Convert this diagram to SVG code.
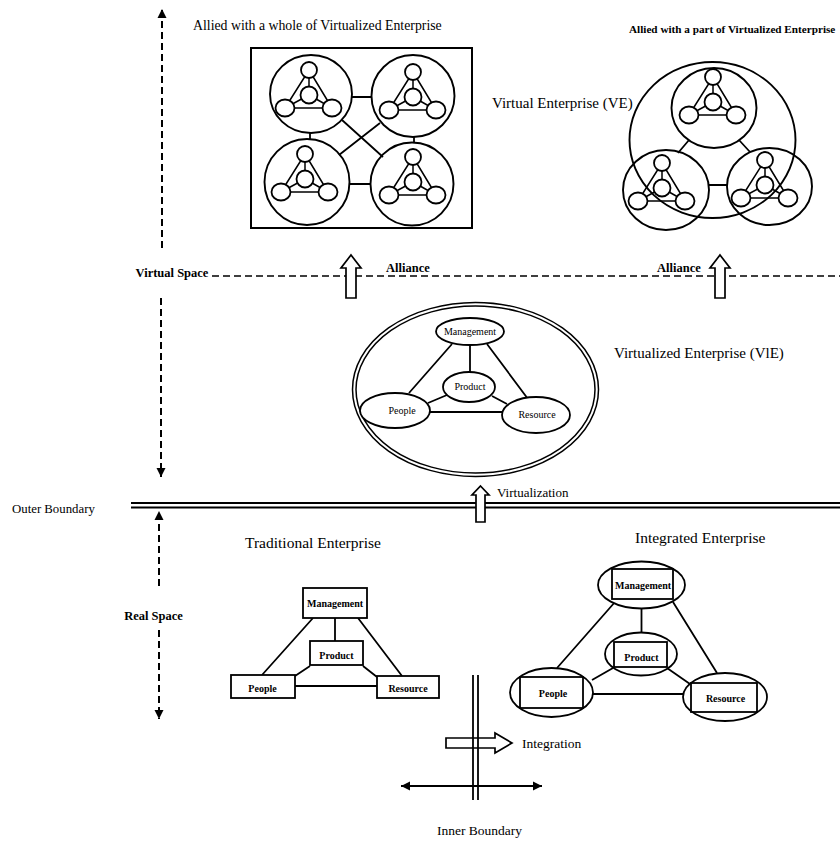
<svg xmlns="http://www.w3.org/2000/svg" xmlns:xlink="http://www.w3.org/1999/xlink" width="840" height="842" viewBox="0 0 840 842">
  <style>
    text { font-family: "Liberation Serif", "Times New Roman", serif; fill: #000; }
    .ln { stroke: #000; stroke-width: 1.8; fill: none; }
    .thin { stroke: #000; stroke-width: 1.5; fill: none; }
    .nd { fill: #fff; stroke: #000; stroke-width: 1.8; }
    .ring { fill: none; stroke: #000; stroke-width: 1.9; }
    .axis { stroke: #000; stroke-width: 2; fill: none; stroke-dasharray: 7 4; }
    .dash { stroke: #000; stroke-width: 1.7; fill: none; stroke-dasharray: 7 4; }
    .blk { fill: #fff; stroke: #000; stroke-width: 1.7; }
    .lbl { font-size: 10px; text-anchor: middle; }
    .lblb { font-size: 10px; font-weight: bold; text-anchor: middle; }
    .title { font-size: 15px; }
  </style>
  <defs>
    <marker id="ah" viewBox="0 0 10 10" refX="10" refY="5" markerWidth="9" markerHeight="10" markerUnits="userSpaceOnUse" orient="auto-start-reverse">
      <path d="M0,0 L10,5 L0,10 z" fill="#000" stroke="none"/>
    </marker>
    <!-- small four-node triangle reused inside every enterprise circle -->
    <g id="mini">
      <path class="thin" d="M0,-25 L-24,13 M0,-25 L23,13 M-24,13 L23,13 M0,-25 L0,0 M0,0 L-24,13 M0,0 L23,13"/>
      <circle class="nd" cx="0" cy="-25" r="8" stroke-width="1.5"/>
      <circle class="nd" cx="0" cy="0" r="8.5" stroke-width="1.5"/>
      <ellipse class="nd" cx="-24" cy="13" rx="9.5" ry="8.5" stroke-width="1.5"/>
      <ellipse class="nd" cx="23" cy="13" rx="9.5" ry="8.5" stroke-width="1.5"/>
    </g>
  </defs>

  <rect width="840" height="842" fill="#fff"/>

  <!-- vertical space axes -->
  <g id="axes">
    <line class="axis" x1="162" y1="248" x2="162" y2="9" marker-end="url(#ah)"/>
    <line class="axis" x1="161" y1="298" x2="161" y2="477" marker-end="url(#ah)"/>
    <line class="axis" x1="159" y1="586" x2="159" y2="511" marker-end="url(#ah)"/>
    <line class="axis" x1="159" y1="630" x2="159" y2="719" marker-end="url(#ah)"/>
    <text x="172" y="277" font-size="12.5" font-weight="bold" text-anchor="middle">Virtual Space</text>
    <text x="153.5" y="620" font-size="12.5" font-weight="bold" text-anchor="middle">Real Space</text>
  </g>

  <!-- boundaries -->
  <g id="outer-boundary">
    <line class="ln" x1="131" y1="503" x2="840" y2="503"/>
    <line class="ln" x1="131" y1="507.5" x2="840" y2="507.5"/>
    <text x="12" y="513" font-size="12.8">Outer Boundary</text>
  </g>
  <g id="alliance-line">
    <line class="dash" x1="212" y1="276" x2="840" y2="276"/>
  </g>

  <!-- top captions and titles -->
  <text x="193" y="30" font-size="13.8">Allied with a whole of Virtualized Enterprise</text>
  <text x="629" y="33" font-size="11.2" font-weight="bold">Allied with a part of Virtualized Enterprise</text>
  <text class="title" x="492" y="108">Virtual Enterprise (VE)</text>
  <text class="title" x="614" y="358">Virtualized Enterprise (VlE)</text>
  <text x="245" y="548" font-size="15.5">Traditional Enterprise</text>
  <text x="635" y="543" font-size="15.5">Integrated Enterprise</text>

  <!-- Virtual Enterprise: whole alliance (box) -->
  <g id="ve-whole">
    <rect x="251" y="48" width="221" height="180" fill="none" stroke="#000" stroke-width="2"/>
    <g id="ve-whole-links">
      <path class="ln" d="M352,97 L372,97 M310,133 L310,139 M414,137 L414,143 M349,184 L371,184 M342,120 L383,157 M380,123 L339,155"/>
    </g>
    <g id="ve-tl"><ellipse class="ring" cx="311" cy="94" rx="41" ry="39"/><use xlink:href="#mini" x="309" y="95"/></g>
    <g id="ve-tr"><ellipse class="ring" cx="413" cy="96" rx="41.5" ry="41"/><use xlink:href="#mini" x="413" y="97"/></g>
    <g id="ve-bl"><ellipse class="ring" cx="307" cy="182" rx="42.5" ry="43"/><use xlink:href="#mini" x="305" y="179"/></g>
    <g id="ve-br"><ellipse class="ring" cx="412" cy="184" rx="41.5" ry="41.5"/><use xlink:href="#mini" x="413" y="182"/></g>
  </g>

  <!-- Virtual Enterprise: partial alliance (circle) -->
  <g id="ve-part">
    <g id="ve-part-links">
      <path class="ln" d="M689,140 L678,153 M739,140 L750,152 M709,185 L727,185"/>
    </g>
    <g id="vp-top"><ellipse class="ring" cx="714" cy="108" rx="42.5" ry="40"/><use xlink:href="#mini" x="713" y="102"/></g>
    <g id="vp-bl"><ellipse class="ring" cx="666" cy="190" rx="43" ry="40"/><use xlink:href="#mini" x="662" y="188"/></g>
    <g id="vp-br"><ellipse class="ring" cx="769.5" cy="186.5" rx="42.5" ry="38.5"/><use xlink:href="#mini" x="765" y="185"/></g>
    <ellipse class="ring" cx="712.5" cy="140" rx="83" ry="78"/>
  </g>

  <!-- alliance arrows -->
  <g id="alliance-arrows">
    <polygon class="blk" points="351,255 361,268 356,268 356,298 346,298 346,268 341,268"/>
    <polygon class="blk" points="720,255 730,268 725,268 725,298 715,298 715,268 710,268"/>
    <text x="386" y="272" font-size="12.5" font-weight="bold">Alliance</text>
    <text x="657" y="272" font-size="12.5" font-weight="bold">Alliance</text>
  </g>

  <!-- Virtualized Enterprise -->
  <g id="vle">
    <ellipse class="thin" cx="475.5" cy="389.5" rx="123" ry="87" stroke-width="1.7"/>
    <ellipse class="thin" cx="475.5" cy="389.5" rx="119.5" ry="83.5" stroke-width="1.7"/>
    <g id="vle-links">
      <path class="ln" d="M452,344 L409,393 M470,345 L470,372 M487,344 L528,399 M447,395 L428,403 M492,396 L507,404 M430,412 L502,412"/>
    </g>
    <g id="vle-management"><ellipse class="nd" cx="470" cy="331.5" rx="34" ry="13.5"/><text class="lbl" x="470" y="335">Management</text></g>
    <g id="vle-product"><ellipse class="nd" cx="469" cy="387" rx="26" ry="15"/><text class="lbl" x="470" y="390">Product</text></g>
    <g id="vle-people"><ellipse class="nd" cx="395" cy="410.5" rx="35" ry="17.5"/><text class="lbl" x="402" y="414">People</text></g>
    <g id="vle-resource"><ellipse class="nd" cx="536" cy="415" rx="34" ry="18"/><text class="lbl" x="537" y="418">Resource</text></g>
  </g>

  <!-- virtualization arrow -->
  <g id="virtualization">
    <polygon class="blk" points="480.5,486 489,495 485,495 485,522 476,522 476,495 472,495"/>
    <text x="497" y="497" font-size="13">Virtualization</text>
  </g>

  <!-- Traditional Enterprise -->
  <g id="traditional">
    <g id="te-links">
      <path class="ln" d="M313,618 L262,675 M335,618 L335,641 M358,618 L402,676 M310,666 L295,676 M363,666 L377,677 M295,686 L377,686"/>
    </g>
    <g id="te-management"><rect class="nd" x="303" y="588" width="64" height="30"/><text class="lblb" x="335" y="607">Management</text></g>
    <g id="te-product"><rect class="nd" x="310" y="641" width="53" height="24"/><text class="lblb" x="336.5" y="659">Product</text></g>
    <g id="te-people"><rect class="nd" x="231" y="675" width="64" height="23"/><text class="lblb" x="262.5" y="692">People</text></g>
    <g id="te-resource"><rect class="nd" x="377" y="676" width="62" height="22"/><text class="lblb" x="408" y="692">Resource</text></g>
  </g>

  <!-- Integrated Enterprise -->
  <g id="integrated">
    <g id="ie-links">
      <path class="ln" d="M615,602 L557,668 M641.5,608 L641.5,633 M673,602 L717,673 M613,668 L592,680 M667,668 L690,684 M593,694 L683,694"/>
    </g>
    <g id="ie-management"><ellipse class="nd" cx="641.5" cy="585" rx="43.5" ry="23.5"/><rect class="ln" x="612" y="569" width="61" height="30"/><text class="lblb" x="643" y="589">Management</text></g>
    <g id="ie-product"><ellipse class="nd" cx="641" cy="654" rx="36" ry="21.5"/><rect class="ln" x="614" y="642" width="53" height="25"/><text class="lblb" x="641.5" y="661">Product</text></g>
    <g id="ie-people"><ellipse class="nd" cx="551.5" cy="692.5" rx="41.5" ry="24.5"/><rect class="ln" x="520" y="677" width="63" height="31"/><text class="lblb" x="553" y="697">People</text></g>
    <g id="ie-resource"><ellipse class="nd" cx="725" cy="697" rx="42" ry="24"/><rect class="ln" x="691" y="683" width="66" height="29"/><text class="lblb" x="725.5" y="702">Resource</text></g>
  </g>

  <!-- integration arrow and inner boundary -->
  <g id="integration">
    <polygon class="blk" points="446,738 495,738 495,733 512,743 495,753 495,748 446,748"/>
    <text x="522" y="748" font-size="13.5">Integration</text>
  </g>
  <g id="inner-boundary">
    <line class="ln" x1="473" y1="675" x2="473" y2="800"/>
    <line class="ln" x1="478" y1="675" x2="478" y2="800"/>
    <line class="ln" x1="401" y1="786" x2="542" y2="786" marker-start="url(#ah)" marker-end="url(#ah)"/>
    <text x="437" y="835" font-size="13.5">Inner Boundary</text>
  </g>
</svg>
